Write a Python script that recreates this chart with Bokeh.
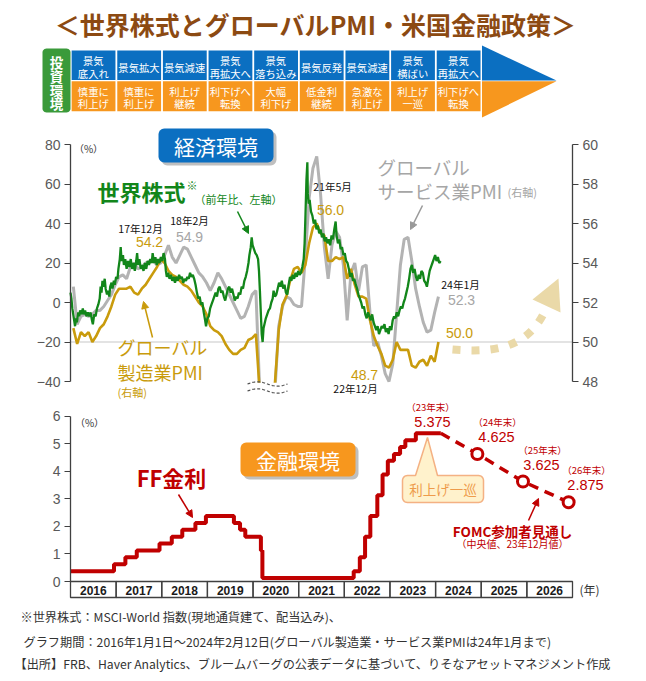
import numpy as np
import pandas as pd
from bokeh.plotting import figure
from bokeh.models import Range1d, LinearAxis, FixedTicker, Arrow, NormalHead
from bokeh.core.properties import value
from bokeh.embed import file_html
from bokeh.resources import INLINE

# ---------------- data ----------------
years = list(range(2016, 2027))
phase_years = list(range(2016, 2025))
econ_phase = ["景気\n底入れ", "景気拡大", "景気減速", "景気\n再拡大へ", "景気\n落ち込み",
              "景気反発", "景気減速", "景気\n横ばい", "景気\n再拡大へ"]
policy_phase = ["慎重に\n利上げ", "慎重に\n利上げ", "利上げ\n継続", "利下げへ\n転換", "大幅\n利下げ",
                "低金利\n継続", "急激な\n利上げ", "利上げ\n一巡", "利下げへ\n転換"]

left_ticks = [-40, -20, 0, 20, 40, 60, 80]
right_ticks = [48, 50, 52, 54, 56, 58, 60]
ff_ticks = [0, 1, 2, 3, 4, 5, 6]

# global manufacturing PMI, monthly 2016-01 .. 2024-01
mfg_pmi = [50.7, 49.9, 50.5, 50.3, 50.5, 50.0, 50.3, 50.7, 50.9, 51.3, 51.8, 52.4,
           52.7, 52.7, 52.7, 52.8, 52.5, 52.4, 52.7, 52.9, 53.2, 53.5, 53.8, 54.2,
           54.0, 53.6, 53.4, 53.3, 53.1, 52.9, 52.8, 52.6, 52.3, 52.0, 51.8, 51.4,
           50.8, 50.6, 50.5, 50.3, 49.9, 49.6, 49.4, 49.4, 49.6, 49.7, 50.1, 50.2,
           50.4, 47.2, 47.3, 39.6, 42.4, 47.9, 50.6, 51.9, 52.3, 53.1, 53.7, 53.8,
           53.5, 53.9, 55.0, 55.8, 56.0, 55.5, 55.4, 54.1, 54.1, 54.3, 54.2, 54.3,
           53.2, 53.7, 52.9, 52.3, 52.3, 52.2, 51.1, 50.3, 49.8, 49.4, 48.8, 48.7,
           49.1, 50.0, 49.6, 49.6, 49.6, 48.8, 48.7, 49.0, 49.1, 48.8, 49.3, 49.0,
           50.0]
# global services PMI, monthly 2016-01 .. 2024-01
svc_pmi = [52.8, 50.9, 51.3, 51.4, 51.3, 51.4, 51.6, 51.6, 51.8, 52.1, 52.4, 52.9,
           53.3, 53.4, 53.2, 53.8, 54.0, 53.7, 53.8, 54.0, 54.1, 54.1, 53.9, 54.0,
           54.4, 54.9, 54.3, 54.0, 54.4, 54.8, 54.7, 54.3, 53.9, 53.5, 53.3, 53.0,
           52.6, 53.0, 53.5, 53.2, 52.8, 52.4, 52.0, 51.6, 51.2, 51.3, 51.8, 52.4,
           52.6, 47.0, 39.0, 30.0, 36.0, 47.0, 50.8, 51.8, 52.3, 52.2, 51.9, 51.8,
           51.8, 54.3, 57.3, 58.8, 59.4, 57.5, 54.8, 53.2, 54.9, 55.6, 55.3, 53.9,
           51.1, 53.5, 54.0, 52.6, 53.8, 53.9, 51.5, 49.8, 50.0, 49.3, 48.4, 48.0,
           48.9, 51.4, 53.9, 55.2, 55.3, 54.1, 52.7, 51.8, 51.0, 50.5, 50.6, 51.5,
           52.3]

# MSCI World YoY (%)
stock_t = [2016.00, 2016.02, 2016.04, 2016.06, 2016.08, 2016.10, 2016.12, 2016.14, 2016.17, 2016.19,
           2016.21, 2016.24, 2016.27, 2016.29, 2016.32, 2016.35, 2016.38, 2016.41, 2016.44, 2016.47,
           2016.49, 2016.52, 2016.55, 2016.58, 2016.61, 2016.64, 2016.66, 2016.68, 2016.70, 2016.72,
           2016.75, 2016.77, 2016.80, 2016.82, 2016.85, 2016.87, 2016.90, 2016.92, 2016.95, 2016.97,
           2017.00, 2017.03, 2017.05, 2017.08, 2017.10, 2017.12, 2017.15, 2017.17, 2017.20, 2017.23,
           2017.26, 2017.29, 2017.32, 2017.35, 2017.38, 2017.41, 2017.44, 2017.46, 2017.48, 2017.51,
           2017.54, 2017.57, 2017.60, 2017.63, 2017.66, 2017.69, 2017.72, 2017.75, 2017.78, 2017.80,
           2017.83, 2017.86, 2017.89, 2017.92, 2017.95, 2017.98,
           2018.01, 2018.04, 2018.07, 2018.09, 2018.11, 2018.14, 2018.17, 2018.20, 2018.23, 2018.26,
           2018.29, 2018.32, 2018.35, 2018.38, 2018.41, 2018.44, 2018.47, 2018.50, 2018.53, 2018.56,
           2018.59, 2018.62, 2018.65, 2018.68, 2018.71, 2018.74, 2018.77, 2018.80, 2018.83, 2018.86,
           2018.89, 2018.92, 2018.95, 2018.97,
           2019.00, 2019.03, 2019.06, 2019.09, 2019.12, 2019.15, 2019.18, 2019.21, 2019.24, 2019.27,
           2019.30, 2019.33, 2019.36, 2019.39, 2019.42, 2019.45, 2019.48, 2019.51, 2019.54, 2019.57,
           2019.60, 2019.63, 2019.66, 2019.69, 2019.72, 2019.75, 2019.78, 2019.81, 2019.84, 2019.87,
           2019.90, 2019.92, 2019.95, 2019.97, 2019.99,
           2020.02, 2020.05, 2020.08, 2020.11, 2020.13, 2020.15, 2020.17, 2020.19, 2020.21, 2020.23,
           2020.25, 2020.28, 2020.31, 2020.34, 2020.37, 2020.40, 2020.43, 2020.45, 2020.48, 2020.51,
           2020.54, 2020.57, 2020.60, 2020.63, 2020.66, 2020.69, 2020.72, 2020.75, 2020.78, 2020.81,
           2020.84, 2020.87, 2020.90, 2020.93, 2020.96, 2020.99,
           2021.02, 2021.05, 2021.08, 2021.11, 2021.13, 2021.15, 2021.17, 2021.19, 2021.20, 2021.22,
           2021.24, 2021.27, 2021.30, 2021.33, 2021.36, 2021.39, 2021.42, 2021.45, 2021.48, 2021.51,
           2021.54, 2021.57, 2021.60, 2021.63, 2021.66, 2021.69, 2021.72, 2021.75, 2021.78, 2021.81,
           2021.83, 2021.86, 2021.89, 2021.92, 2021.95, 2021.98,
           2022.01, 2022.04, 2022.07, 2022.10, 2022.13, 2022.16, 2022.19, 2022.22, 2022.25, 2022.28,
           2022.31, 2022.34, 2022.37, 2022.40, 2022.43, 2022.46, 2022.49, 2022.52, 2022.55, 2022.58,
           2022.61, 2022.64, 2022.67, 2022.70, 2022.73, 2022.76, 2022.79, 2022.82, 2022.85, 2022.88,
           2022.91, 2022.94, 2022.97,
           2023.00, 2023.03, 2023.06, 2023.09, 2023.12, 2023.15, 2023.18, 2023.21, 2023.24, 2023.27,
           2023.30, 2023.33, 2023.36, 2023.39, 2023.42, 2023.45, 2023.48, 2023.51, 2023.54, 2023.57,
           2023.60, 2023.63, 2023.66, 2023.69, 2023.72, 2023.75, 2023.78, 2023.81, 2023.84, 2023.87,
           2023.90, 2023.93, 2023.96, 2023.99,
           2024.02, 2024.05, 2024.08, 2024.11]
stock_v = [5, 2, -3, -6, -9, -12, -8, -10, -5, -7,
           -4, -6, -3, -6, -4, -7, -5, -7, -5, -9,
           -11, -6, -7, -3, -1, 2, 8, 5, 11, 8,
           12, 7, 4, 6, 3, 8, 10, 7, 11, 9,
           13, 12, 17, 22, 28, 21, 24, 19, 22, 17,
           21, 18, 22, 17, 20, 16, 21, 25, 19, 22,
           17, 19, 16, 20, 17, 21, 19, 22, 20, 25,
           20, 23, 19, 22, 20, 23,
           21, 25, 22, 16, 13, 15, 12, 14, 11, 13,
           10, 13, 11, 14, 12, 13, 10, 12, 11, 13,
           12, 15, 13, 14, 12, 9, 5, 2, 3, -1,
           0, -5, -9, -12,
           -8, -7, -3, -1, 1, 3, 5, 3, 7, 8,
           5, 6, 3, 1, 4, 7, 8, 5, 7, 4,
           1, 3, 2, 5, 4, 8, 7, 11, 13, 16,
           20, 24, 28, 33, 29,
           27, 25, 24, 22, 16, 6, -5, -16, -20, -13,
           -11, -8, -6, -4, -3, 0, 2, 6, 3, 4,
           7, 10, 8, 11, 7, 9, 5, 4, 9, 13,
           11, 14, 12, 15, 13, 16,
           14, 15, 18, 22, 30, 45, 62, 71, 55, 50,
           52, 46, 44, 40, 42, 37, 39, 35, 37, 33,
           35, 31, 33, 30, 32, 29, 34, 32, 37, 41,
           34, 30, 32, 27, 28, 24,
           25, 21, 20, 17, 13, 15, 11, 12, 9, 7,
           4, 2, 0, -3, -2, -6, -8, -5, -7, -9,
           -6, -10, -12, -14, -12, -16, -14, -12, -13, -11,
           -15, -13, -16,
           -12, -14, -9, -7, -8, -5, -7, -4, -2, -3,
           0, 2, 5, 8, 12, 17, 19, 15, 17, 13,
           11, 14, 12, 16, 15, 11, 10, 8, 12, 16,
           18, 20, 22, 24,
           21, 23, 20, 21]

# US policy rate (mid-point of FF target range)
ff_dates = ["2016-01-01", "2016-12-15", "2017-03-16", "2017-06-15", "2017-12-14", "2018-03-22",
            "2018-06-14", "2018-09-27", "2018-12-20", "2019-08-01", "2019-09-19", "2019-10-31",
            "2020-03-04", "2020-03-16", "2022-03-17", "2022-05-05", "2022-06-16", "2022-07-28",
            "2022-09-22", "2022-11-03", "2022-12-15", "2023-02-02", "2023-03-23", "2023-05-04",
            "2023-07-27", "2024-02-12"]
ff_rates = [0.375, 0.625, 0.875, 1.125, 1.375, 1.625, 1.875, 2.125, 2.375, 2.125, 1.875, 1.625,
            1.125, 0.125, 0.375, 0.875, 1.625, 2.375, 3.125, 3.875, 4.375, 4.625, 4.875, 5.125,
            5.375, 5.375]
fomc_dates = ["2024-12-01", "2025-12-01", "2026-12-01"]
fomc_rates = [4.625, 3.625, 2.875]
fomc_labels = ["（24年末）", "（25年末）", "（26年末）"]

footnotes = ["※世界株式：MSCI-World 指数(現地通貨建て、配当込み)、",
             "グラフ期間：2016年1月1日～2024年2月12日(グローバル製造業・サービス業PMIは24年1月まで)",
             "【出所】FRB、Haver Analytics、ブルームバーグの公表データに基づいて、りそなアセットマネジメント作成"]


def dec_year(dates):
    d = pd.to_datetime(pd.Series(dates))
    return (d.dt.year + (d.dt.dayofyear - 1) / np.where(d.dt.is_leap_year, 366, 365)).to_numpy()


months = pd.period_range("2016-01", periods=len(mfg_pmi), freq="M")
pmi_x = months.year + (months.month - 0.25) / 12
mfg = pd.Series(mfg_pmi, index=months)
svc = pd.Series(svc_pmi, index=months)
ff_t = dec_year(ff_dates)
fomc_t = dec_year(fomc_dates)

# ---------------- geometry (reference pixels) ----------------
W, H, M = 646, 681, 0


def lin(va, pa, vb, pb):
    return lambda px: va + (px - pa) * (vb - va) / (pb - pa)


fx = lin(2016, 70, 2027, 572)
fy = lin(-40, 381, 80, 144)
fpmi = lin(48, 381, 60, 144)
fff = lin(0, 581, 6, 415.5)

p = figure(width=W, height=H, output_backend="svg", toolbar_location=None,
           x_range=Range1d(fx(M), fx(M + W)), y_range=Range1d(fy(M + H), fy(M)),
           x_axis_type=None, y_axis_type=None, min_border=0,
           outline_line_color=None, background_fill_color="white", border_fill_color="white")
p.title.visible = False
p.extra_x_ranges = {"px": Range1d(M, M + W)}
p.extra_y_ranges = {"pmi": Range1d(fpmi(M + H), fpmi(M)),
                    "ff": Range1d(fff(M + H), fff(M)),
                    "py": Range1d(M + H, M)}

JP = value("Noto Sans CJK JP")
NUM = value("Liberation Sans")

BLUE = "#0B6FC1"
ORANGE = "#F7971E"
GREEN_BOX = "#3A9A3A"
GREEN = "#12861A"
GOLD = "#C99B0C"
GREY = "#B3B3B3"
GREY_T = "#A6A6A6"
RED = "#C00000"
TAN = "#EAD9A8"
BROWN = "#8C4A12"


def T(x, y, s, size, color, align="center", bold=False, font=JP, xr="px"):
    p.text(x=[x], y=[y], text=[s], text_font=font, text_font_size=f"{size}px",
           text_color=color, text_align=align, text_baseline="middle",
           text_font_style="bold" if bold else "normal",
           x_range_name=xr, y_range_name="py")


def P(xs, ys, fill, line=None, lw=1.0, alpha=1.0):
    p.patch(list(xs), list(ys), fill_color=fill, fill_alpha=alpha, line_color=line,
            line_width=lw, x_range_name="px", y_range_name="py")


def rrect(x0, y0, x1, y1, r, n=7):
    xs, ys = [], []
    for cx, cy, a0, a1 in [(x1 - r, y0 + r, -90, 0), (x1 - r, y1 - r, 0, 90),
                           (x0 + r, y1 - r, 90, 180), (x0 + r, y0 + r, 180, 270)]:
        for a in np.radians(np.linspace(a0, a1, n)):
            xs.append(cx + r * np.cos(a))
            ys.append(cy + r * np.sin(a))
    return xs, ys


def arrow(x0, y0, x1, y1, color, lw=1.5, size=7):
    p.add_layout(Arrow(x_start=x0, y_start=y0, x_end=x1, y_end=y1,
                       x_range_name="px", y_range_name="py",
                       line_color=color, line_width=lw,
                       end=NormalHead(size=size, fill_color=color, line_color=color)))


# ---------------- header ----------------
T(315, 23, "＜世界株式とグローバルPMI・米国金融政策＞", 25, BROWN, bold=True)
P(*rrect(42, 48, 70, 112, 4), GREEN_BOX)
for ch, yy in zip("投資環境", [61, 75.5, 89, 102.5]):
    T(56, yy, ch, 13.5, "white", bold=True)

p.quad(left=[y + 0.025 for y in phase_years], right=[y + 0.985 for y in phase_years],
       top=[50] * len(phase_years), bottom=[79.5] * len(phase_years),
       y_range_name="py", fill_color=BLUE, line_color=None)
p.quad(left=[y + 0.025 for y in phase_years], right=[y + 0.985 for y in phase_years],
       top=[80.7] * len(phase_years), bottom=[110.7] * len(phase_years),
       y_range_name="py", fill_color=ORANGE, line_color=None)
for yr, e, f in zip(phase_years, econ_phase, policy_phase):
    el = e.split("\n")
    for s, yy in zip(el, [60, 72.5] if len(el) == 2 else [66.5]):
        T(yr + 0.5, yy, s, 10.3, "white", xr="default")
    for s, yy in zip(f.split("\n"), [91, 102.5]):
        T(yr + 0.5, yy, s, 10.3, "white", xr="default")
P([481.5, 556, 481.5], [45, 80, 80], BLUE)
P([481.5, 556, 481.5], [80.8, 80.8, 117], ORANGE)

# ---------------- top chart ----------------
p.line([years[0], years[-1] + 1], [50, 50], y_range_name="pmi", line_color="#C8C8C8", line_width=1.2)
p.line(pmi_x, np.maximum(svc.values, 47.5), y_range_name="pmi", line_color=GREY, line_width=3)
p.line(pmi_x, np.maximum(mfg.values, 47.5), y_range_name="pmi", line_color=GOLD, line_width=2.6)
p.line(stock_t, stock_v, line_color=GREEN, line_width=2.3)
p.quad(left=[246], right=[292], top=[382.3], bottom=[398], x_range_name="px", y_range_name="py",
       fill_color="white", line_color=None)
wx = np.linspace(247, 287, 41)
for base in (383.5, 390.5):
    p.line(wx, base - 2.2 * np.sin((wx - 247) / 40 * 2 * np.pi), x_range_name="px", y_range_name="py",
           line_color="#555555", line_width=1.2, line_dash="3 2")

axl = LinearAxis(fixed_location=years[0], bounds=(left_ticks[0], left_ticks[-1]),
                 ticker=FixedTicker(ticks=left_ticks))
axr = LinearAxis(y_range_name="pmi", fixed_location=years[-1] + 1,
                 bounds=(right_ticks[0], right_ticks[-1]), ticker=FixedTicker(ticks=right_ticks))
axf = LinearAxis(y_range_name="ff", fixed_location=years[0], bounds=(ff_ticks[0], ff_ticks[-1]),
                 ticker=FixedTicker(ticks=ff_ticks))
for ax in (axl, axr, axf):
    ax.axis_line_color = "#404040"
    ax.axis_line_width = 1.3
    ax.major_tick_line_color = "#404040"
    ax.major_tick_out = 6
    ax.major_tick_in = 0
    ax.minor_tick_out = 0
    ax.minor_tick_in = 0
    ax.major_label_text_font = "Liberation Sans"
    ax.major_label_text_font_size = "14px"
    ax.major_label_text_color = "#595959"
    ax.major_label_standoff = 4
p.add_layout(axl, "left")
p.add_layout(axf, "left")
p.add_layout(axr, "right")

# economy box
P(*rrect(161, 131, 276, 165, 6), "#000000", alpha=0.25)
P(*rrect(158, 128, 273, 162, 6), BLUE)
T(215.5, 145.5, "経済環境", 21, "white")
T(88, 148, "（%）", 10, "#333333")

T(97, 190, "世界株式", 22, GREEN, align="left", bold=True)
T(186, 184, "※", 11, GREEN, align="left")
T(194, 198, "（前年比、左軸）", 11, GREEN, align="left")
arrow(237, 211, 248, 233, GREEN)

T(140, 228, "17年12月", 10.5, "#111111")
T(149, 241, f"{mfg['2017-12']:.1f}", 14, GOLD, font=NUM)
T(189, 220, "18年2月", 10.5, "#111111")
T(189, 236, f"{svc['2018-02']:.1f}", 14, GREY_T, font=NUM)
arrow(152, 337, 143, 301, GOLD)
T(117, 346, "グローバル", 18, GOLD, align="left")
T(117, 371, "製造業PMI", 18, GOLD, align="left")
T(117, 391, "(右軸)", 11, GOLD, align="left")

T(332, 186, "21年5月", 10.5, "#111111")
T(330, 209, f"{mfg['2021-05']:.1f}", 14, GOLD, font=NUM)
T(377, 166, "グローバル", 18.5, GREY_T, align="left")
T(377, 190, "サービス業PMI", 18.5, GREY_T, align="left")
T(507, 191, "(右軸)", 11, GREY_T, align="left")
arrow(422, 205, 410, 229, "#999999")

T(460, 284, "24年1月", 10.5, "#111111")
T(461, 299, f"{svc['2024-01']:.1f}", 14, GREY_T, font=NUM)
T(459, 332, f"{mfg['2024-01']:.1f}", 14, GOLD, font=NUM)
T(364, 374, f"{mfg['2022-12']:.1f}", 14, GOLD, font=NUM)
T(355, 388, "22年12月", 10.5, "#111111")

p.bezier(x0=[452], y0=[349], x1=[546], y1=[307], cx0=[490], cy0=[352], cx1=[528], cy1=[350],
         x_range_name="px", y_range_name="py", line_color=TAN, line_width=8, line_dash="8 11")
P([532, 558, 560], [299, 278, 312], TAN)

# ---------------- bottom chart ----------------
p.step(ff_t, ff_rates, mode="after", y_range_name="ff", line_color=RED, line_width=4)
proj_t = [ff_t[-1]] + list(fomc_t)
proj_r = [ff_rates[-1]] + fomc_rates
p.line(proj_t, proj_r, y_range_name="ff", line_color=RED, line_width=3.5, line_dash="10 7")
p.scatter(fomc_t, fomc_rates, y_range_name="ff", size=11, fill_color="white",
          line_color=RED, line_width=3)

p.quad(left=years, right=[y + 1 for y in years], top=[581] * len(years), bottom=[597] * len(years),
       y_range_name="py", fill_color=None, line_color="#404040", line_width=1.3)
p.text(x=[y + 0.5 for y in years], y=[589.5] * len(years), text=[str(y) for y in years],
       y_range_name="py", text_font=NUM, text_font_size="12px", text_font_style="bold",
       text_color="#1a1a1a", text_align="center", text_baseline="middle")
T(589, 589, "(年)", 12, "#333333")
T(89, 422, "（%）", 10, "#333333")

P(*rrect(243, 445, 358, 479, 6), "#000000", alpha=0.25)
P(*rrect(240, 442, 355, 476, 6), ORANGE)
T(297.5, 459, "金融環境", 21, "white")

T(171, 476, "FF金利", 22, RED, bold=True)
arrow(178, 494, 192, 517, RED)

T(430, 406, "（23年末）", 9.5, RED)
T(432, 421, f"{ff_rates[-1]:.3f}", 14.5, RED, font=NUM)
for (lx, ly), lab, r in zip([(497, 421), (542, 449), (586, 469)], fomc_labels, fomc_rates):
    T(lx, ly, lab, 9.5, RED)
    T(lx - 1, ly + 15, f"{r:.3f}", 14.5, RED, font=NUM)

cx, cy = rrect(402, 475, 483, 502, 5)
cx += [415, 427, 437]
cy += [475, 437, 475]
P(cx, cy, "#FFF2CC", line="#F4B183", lw=1.5)
T(442.5, 488.5, "利上げ一巡", 13.5, "#EE9B4A")

T(512, 530, "FOMC参加者見通し", 13.5, RED, bold=True)
T(512, 543, "（中央値、23年12月値）", 10, RED)
arrow(528, 520, 538, 498, RED)

# ---------------- footnotes ----------------
for (fxp, fyp), s in zip([(20, 616), (23, 641), (14, 663)], footnotes):
    T(fxp, fyp, s, 12.2, "#333333", align="left")

open("out.html", "w").write(file_html(p, INLINE))
